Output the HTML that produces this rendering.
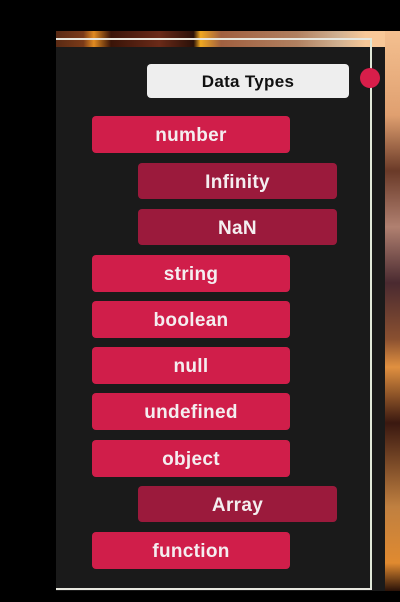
<!DOCTYPE html>
<html><head><meta charset="utf-8"><style>
html,body{margin:0;padding:0;background:#000;}
body{width:400px;height:602px;position:relative;overflow:hidden;font-family:"Liberation Sans",sans-serif;}
.a{position:absolute;}
.b{position:absolute;border-radius:4px;color:#f4eef0;font-weight:bold;font-size:19px;text-align:center;box-sizing:border-box;letter-spacing:0.3px;}
.p{background:#d01e4a;left:92px;width:198px;height:37px;line-height:40px;}
.s{background:#9b1a3c;left:138px;width:199px;height:36px;line-height:39px;}
</style></head><body>
<div class="a" style="left:56px;top:31px;width:344px;height:16px;background:linear-gradient(90deg,#5a2a14 0%,#7a3a18 8%,#e08a20 11%,#3a1408 16%,#6a2a18 30%,#2a1008 40%,#f0a820 42%,#a06040 48%,#b08060 70%,#d0b090 82%,#f8c898 90%,#f8c898 100%);"></div>
<div class="a" style="left:385px;top:31px;width:15px;height:560px;background:linear-gradient(180deg,#f4c090 0%,#e0a070 15%,#6a3a28 25%,#b08070 35%,#4a2a30 45%,#8a5030 55%,#e09040 60%,#3a1810 70%,#c08040 85%,#e08a30 95%,#2a1208 100%);"></div>
<div class="a" style="left:56px;top:47px;width:329px;height:544px;background:#1a1a1a;"></div>
<div class="a" style="left:56px;top:38px;width:316px;height:2px;background:#e8e8e0;"></div>
<div class="a" style="left:370px;top:38px;width:2px;height:552px;background:#e0e8d8;"></div>
<div class="a" style="left:56px;top:588px;width:316px;height:2px;background:#e8e8e0;"></div>
<div class="b" style="left:147px;top:64px;width:202px;height:34px;line-height:36px;background:#eeeeee;color:#111;font-size:17px;">Data Types</div>
<div class="a" style="left:360px;top:68px;width:20px;height:20px;border-radius:50%;background:#d81e4a;"></div>
<div class="b p" style="top:116px;">number</div>
<div class="b s" style="top:163px;">Infinity</div>
<div class="b s" style="top:209px;">NaN</div>
<div class="b p" style="top:255px;">string</div>
<div class="b p" style="top:301px;">boolean</div>
<div class="b p" style="top:347px;">null</div>
<div class="b p" style="top:393px;">undefined</div>
<div class="b p" style="top:440px;">object</div>
<div class="b s" style="top:486px;">Array</div>
<div class="b p" style="top:532px;">function</div>
</body></html>
